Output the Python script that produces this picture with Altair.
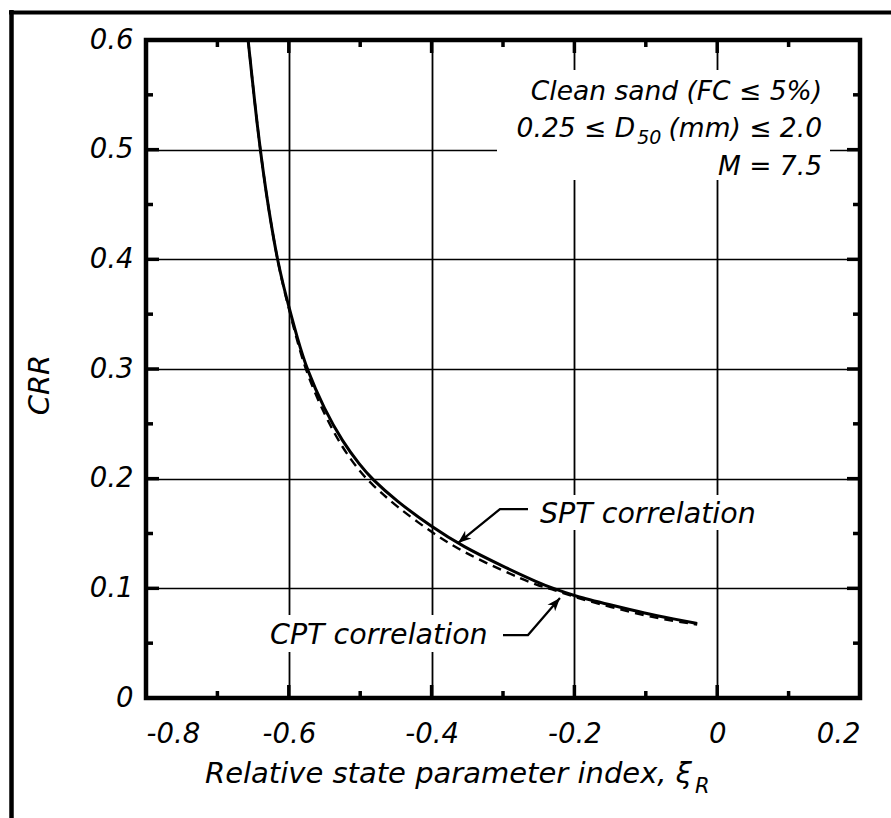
import altair as alt
import pandas as pd

# CRR versus relative state parameter index for clean sand, M = 7.5
xi = [-0.657, -0.652, -0.646, -0.640, -0.632, -0.624, -0.616, -0.608, -0.600,
      -0.588, -0.575, -0.550, -0.525, -0.500, -0.484, -0.450, -0.400, -0.356,
      -0.300, -0.250, -0.230, -0.200, -0.150, -0.100, -0.060, -0.028]
crr_spt = [0.600, 0.569, 0.533, 0.500, 0.462, 0.429, 0.400, 0.377, 0.357,
           0.328, 0.300, 0.263, 0.234, 0.212, 0.200, 0.180, 0.156, 0.138,
           0.120, 0.105, 0.100, 0.093, 0.085, 0.077, 0.072, 0.068]
crr_cpt = [0.600, 0.569, 0.533, 0.500, 0.462, 0.429, 0.400, 0.376, 0.355,
           0.325, 0.296, 0.258, 0.228, 0.206, 0.195, 0.175, 0.151, 0.133,
           0.116, 0.102, 0.099, 0.092, 0.083, 0.075, 0.070, 0.067]

x_major = [-0.8, -0.6, -0.4, -0.2, 0.0, 0.2]
x_minor = [-0.7, -0.5, -0.3, -0.1, 0.1]
y_major = [0.0, 0.1, 0.2, 0.3, 0.4, 0.5, 0.6]
y_minor = [0.05, 0.15, 0.25, 0.35, 0.45, 0.55]

FONT = "DejaVu Sans"
W, H = 714, 658
PAD_L, PAD_T = 146, 40

xs = alt.Scale(domain=[-0.8, 0.2], nice=False, zero=False)
ys = alt.Scale(domain=[0, 0.6], nice=False, zero=False)

curves = pd.DataFrame({
    "xi": xi * 2,
    "crr": crr_spt + crr_cpt,
    "series": ["SPT"] * len(xi) + ["CPT"] * len(xi),
    "order": list(range(len(xi))) * 2,
})

x_enc = alt.X("xi:Q", scale=xs, title=None,
              axis=alt.Axis(values=x_major, grid=True, ticks=False, tickSize=0, domain=False,
                            labelExpr="datum.value == 0 ? '0' : (datum.value < 0 ? '-' : '') + format(abs(datum.value), '.1f')",
                            labelPadding=22, labelFontSize=27.5, labelFont=FONT,
                            labelFontStyle="italic", labelColor="black",
                            gridColor="black", gridWidth=1.8, gridOpacity=1))
y_enc = alt.Y("crr:Q", scale=ys, title=None,
              axis=alt.Axis(values=y_major, grid=True, ticks=False, tickSize=0, domain=False,
                            labelExpr="datum.value == 0 ? '0' : format(datum.value, '.1f')",
                            labelPadding=13, labelFontSize=27.5, labelFont=FONT,
                            labelFontStyle="italic", labelColor="black",
                            gridColor="black", gridWidth=1.6, gridOpacity=1))

base = alt.Chart(curves)

spt_line = base.transform_filter(alt.datum.series == "SPT").mark_line(
    color="black", strokeWidth=3, interpolate="basis", clip=True
).encode(x=x_enc, y=y_enc, order="order:Q")

cpt_line = base.transform_filter(alt.datum.series == "CPT").mark_line(
    color="black", strokeWidth=2.4, strokeDash=[9, 6], interpolate="basis", clip=True
).encode(x=alt.X("xi:Q", scale=xs), y=alt.Y("crr:Q", scale=ys), order="order:Q")

# white panels behind the annotations
boxes = pd.DataFrame({
    "x0": [-0.3084, -0.265, -0.6333],
    "x1": [0.158, 0.060, -0.3112],
    "y0": [0.4723, 0.1532, 0.0419],
    "y1": [0.5726, 0.1851, 0.0757],
})
mask = alt.Chart(boxes).mark_rect(color="white").encode(
    x=alt.X("x0:Q", scale=xs), x2="x1:Q",
    y=alt.Y("y0:Q", scale=ys), y2="y1:Q")

# inward tick marks on all four sides
MAJ, MIN, TW = 13, 7, 3.5

def xticks(vals, length):
    d = alt.Chart(pd.DataFrame({"v": vals}))
    bot = d.mark_rule(color="black", strokeWidth=TW).encode(
        x=alt.X("v:Q", scale=xs), y=alt.value(H), y2=alt.value(H - length))
    top = d.mark_rule(color="black", strokeWidth=TW).encode(
        x=alt.X("v:Q", scale=xs), y=alt.value(0), y2=alt.value(length))
    return bot + top

def yticks(vals, length):
    d = alt.Chart(pd.DataFrame({"v": vals}))
    left = d.mark_rule(color="black", strokeWidth=TW).encode(
        y=alt.Y("v:Q", scale=ys), x=alt.value(0), x2=alt.value(length))
    right = d.mark_rule(color="black", strokeWidth=TW).encode(
        y=alt.Y("v:Q", scale=ys), x=alt.value(W), x2=alt.value(W - length))
    return left + right

ticks = (xticks(x_major[1:-1], MAJ) + xticks(x_minor, MIN)
         + yticks(y_major[1:-1], MAJ) + yticks(y_minor, MIN))

# annotation text
notes = pd.DataFrame({
    "x": [0.1468, 0.1468, 0.1468, -0.115],
    "y": [0.5453, 0.5115, 0.4769, 0.5115],
    "t": ["Clean sand (FC \u2264 5%)", "(mm) \u2264 2.0", "M = 7.5", "0.25 \u2264 D"],
})
notes_right = alt.Chart(notes).mark_text(
    align="right", baseline="alphabetic", font=FONT, fontStyle="italic",
    fontSize=26.5, color="black"
).encode(x=alt.X("x:Q", scale=xs), y=alt.Y("y:Q", scale=ys), text="t:N")

sub50 = alt.Chart(pd.DataFrame({"x": [-0.112], "y": [0.505], "t": ["50"]})).mark_text(
    align="left", baseline="alphabetic", font=FONT, fontStyle="italic",
    fontSize=19, color="black"
).encode(x=alt.X("x:Q", scale=xs), y=alt.Y("y:Q", scale=ys), text="t:N")

labels = pd.DataFrame({
    "x": [-0.2482, -0.6263],
    "y": [0.1596, 0.0492],
    "t": ["SPT correlation", "CPT correlation"],
})
curve_labels = alt.Chart(labels).mark_text(
    align="left", baseline="alphabetic", font=FONT, fontStyle="italic",
    fontSize=28.5, color="black"
).encode(x=alt.X("x:Q", scale=xs), y=alt.Y("y:Q", scale=ys), text="t:N")

# leader lines and arrowheads
leaders = pd.DataFrame({
    "x": [-0.265, -0.3042, -0.363, -0.300, -0.265, -0.2202],
    "y": [0.1723, 0.1723, 0.1413, 0.0574, 0.0574, 0.0912],
    "g": ["SPT"] * 3 + ["CPT"] * 3,
    "k": [0, 1, 2, 0, 1, 2],
})
leader_lines = alt.Chart(leaders).mark_line(color="black", strokeWidth=2.2).encode(
    x=alt.X("x:Q", scale=xs), y=alt.Y("y:Q", scale=ys), detail="g:N", order="k:Q")

heads = pd.DataFrame({"x": [-0.363, -0.2202], "y": [0.1413, 0.0912], "a": [231, 41]})
arrowheads = alt.Chart(heads).mark_point(
    shape="M0,0 L-0.38,1 L0,0.72 L0.38,1 Z", filled=True, color="black",
    size=700, opacity=1
).encode(x=alt.X("x:Q", scale=xs), y=alt.Y("y:Q", scale=ys), angle=alt.Angle("a:Q", scale=None))

# axis titles
one = pd.DataFrame({"k": [0]})
xtitle = alt.Chart(one).mark_text(
    align="left", baseline="alphabetic", font=FONT, fontStyle="italic",
    fontSize=29, color="black", text="Relative state parameter index, \u03be"
).encode(x=alt.value(59), y=alt.value(743))
xtitle_sub = alt.Chart(one).mark_text(
    align="left", baseline="alphabetic", font=FONT, fontStyle="italic",
    fontSize=21, color="black", text="R"
).encode(x=alt.value(549), y=alt.value(753))
ytitle = alt.Chart(one).mark_text(
    align="center", baseline="middle", font=FONT, fontStyle="italic",
    fontSize=29, color="black", text="CRR", angle=270
).encode(x=alt.value(-106), y=alt.value(345))

# page frame on the left and top edges
frame_left = alt.Chart(one).mark_rule(color="black", strokeWidth=4.5).encode(
    x=alt.value(11.5 - PAD_L), y=alt.value(10 - PAD_T), y2=alt.value(818 - PAD_T))
frame_top = alt.Chart(one).mark_rule(color="black", strokeWidth=4).encode(
    x=alt.value(9 - PAD_L), x2=alt.value(891 - PAD_L), y=alt.value(12.5 - PAD_T))

chart = alt.layer(
    spt_line, cpt_line, mask, ticks, notes_right, sub50, curve_labels,
    leader_lines, arrowheads, xtitle, xtitle_sub, ytitle, frame_left, frame_top
).properties(
    width=W, height=H,
    autosize=alt.AutoSizeParams(type="none"),
    padding={"left": PAD_L, "top": PAD_T, "right": 891 - PAD_L - W, "bottom": 818 - PAD_T - H},
    background="white",
).configure_view(stroke="black", strokeWidth=4.5)

chart.save("out.html", embed_options={"renderer": "svg", "actions": False})
